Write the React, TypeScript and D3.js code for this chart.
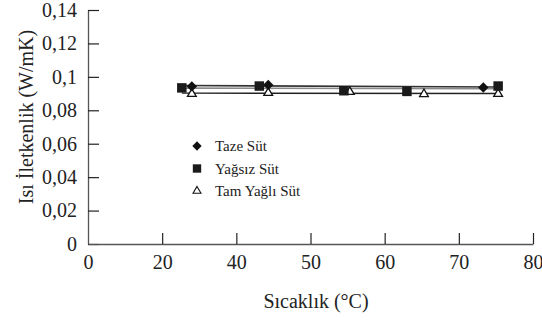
import React, { useRef, useEffect } from 'react';
import * as d3 from 'd3';

// tick labels (the x axis is drawn with evenly spaced, uneven labels)
const xTicks = [0, 20, 40, 50, 60, 70, 80];
const yTicks = [0, 0.02, 0.04, 0.06, 0.08, 0.1, 0.12, 0.14];
const yTickLabels = ['0', '0,02', '0,04', '0,06', '0,08', '0,1', '0,12', '0,14'];

// series
const tazeX = [28, 44.3, 73.3];
const tazeY = [0.0943, 0.0952, 0.0937];
const yagsizX = [25.3, 43.1, 54.5, 63, 75.3];
const yagsizY = [0.0934, 0.0945, 0.0917, 0.0913, 0.0945];
const tamX = [28, 44.3, 55.3, 65.3, 75.3];
const tamY = [0.0898, 0.0904, 0.091, 0.0897, 0.0898];

const seriesNames = ['Taze Süt', 'Yağsız Süt', 'Tam Yağlı Süt'];

const W = 542;
const H = 321;
const FONT = '"Liberation Serif", "Times New Roman", serif';

const fit = (xs, ys) => {
  const mx = d3.mean(xs), my = d3.mean(ys);
  const sxy = d3.sum(xs, (x, i) => (x - mx) * (ys[i] - my));
  const sxx = d3.sum(xs, (x) => (x - mx) * (x - mx));
  const b = sxy / sxx;
  return (x) => my + b * (x - mx);
};

const App = () => {
  const svgRef = useRef(null);

  useEffect(() => {
    const svg = d3.select(svgRef.current);
    svg.selectAll('*').remove();

    const left = 88, right = 533, top = 10, bottom = 244;

    const xScale = d3.scaleLinear()
      .domain(xTicks)
      .range(xTicks.map((_, i) => left + (i * (right - left)) / (xTicks.length - 1)));
    const yScale = d3.scaleLinear().domain([0, 0.14]).range([bottom, top]);

    const axisColor = '#555';

    // y axis
    const gy = svg.append('g')
      .attr('transform', `translate(${left},0)`)
      .call(d3.axisLeft(yScale)
        .tickValues(yTicks)
        .tickSizeInner(-11)
        .tickSizeOuter(0)
        .tickPadding(11)
        .tickFormat((d, i) => yTickLabels[i]));
    gy.select('.domain').attr('stroke', axisColor).attr('stroke-width', 1.3);
    gy.selectAll('.tick line').attr('stroke', '#222').attr('stroke-width', 1.2);
    gy.selectAll('.tick text').attr('fill', '#222').style('font-family', FONT).style('font-size', '20px');

    // x axis
    const gx = svg.append('g')
      .attr('transform', `translate(0,${bottom})`)
      .call(d3.axisBottom(xScale)
        .tickValues(xTicks)
        .tickSizeInner(-11)
        .tickSizeOuter(0)
        .tickPadding(11)
        .tickFormat((d) => String(d)));
    gx.select('.domain').attr('stroke', axisColor).attr('stroke-width', 1.3);
    gx.selectAll('.tick line').attr('stroke', '#222').attr('stroke-width', 1.2);
    gx.selectAll('.tick').filter((d) => d === 0).select('line').remove();
    gx.selectAll('.tick text').attr('fill', '#222').style('font-family', FONT).style('font-size', '20px');

    // trend lines
    const allX = [...tazeX, ...yagsizX, ...tamX];
    const x0 = d3.min(allX), x1 = d3.max(allX);
    const trends = [
      { f: fit(tazeX, tazeY), color: '#333', w: 1.6 },
      { f: fit(yagsizX, yagsizY), color: '#8a8a8a', w: 1.6 },
      { f: fit(tamX, tamY), color: '#222', w: 1.4 },
    ];
    const line = d3.line().x((d) => xScale(d[0])).y((d) => yScale(d[1]));
    trends.forEach((t) => {
      svg.append('path')
        .datum([[x0, t.f(x0)], [x1, t.f(x1)]])
        .attr('fill', 'none')
        .attr('stroke', t.color)
        .attr('stroke-width', t.w)
        .attr('d', line);
    });

    const diamond = d3.symbol().type(d3.symbolDiamond2).size(70);
    const square = d3.symbol().type(d3.symbolSquare).size(90);
    const triangle = d3.symbol().type(d3.symbolTriangle2).size(55);

    const drawSet = (xs, ys, sym, fill, stroke) => {
      svg.append('g').selectAll('path')
        .data(xs.map((x, i) => [x, ys[i]]))
        .enter()
        .append('path')
        .attr('transform', (d) => `translate(${xScale(d[0])},${yScale(d[1])})`)
        .attr('d', sym)
        .attr('fill', fill)
        .attr('stroke', stroke)
        .attr('stroke-width', 1.3);
    };

    drawSet(tamX, tamY, triangle, '#fff', '#111');
    drawSet(yagsizX, yagsizY, square, '#1a1a1a', 'none');
    drawSet(tazeX, tazeY, diamond, '#111', 'none');

    // legend
    const legend = svg.append('g').attr('transform', 'translate(197,146)');
    const legendSyms = [
      { sym: d3.symbol().type(d3.symbolDiamond2).size(55), fill: '#111', stroke: 'none' },
      { sym: d3.symbol().type(d3.symbolSquare).size(70), fill: '#1a1a1a', stroke: 'none' },
      { sym: d3.symbol().type(d3.symbolTriangle2).size(45), fill: '#fff', stroke: '#111' },
    ];
    seriesNames.forEach((name, i) => {
      const row = legend.append('g').attr('transform', `translate(0,${i * 22.5})`);
      row.append('path')
        .attr('d', legendSyms[i].sym)
        .attr('fill', legendSyms[i].fill)
        .attr('stroke', legendSyms[i].stroke)
        .attr('stroke-width', 1.1);
      row.append('text')
        .attr('x', 18)
        .attr('y', 5)
        .attr('fill', '#222')
        .style('font-family', FONT)
        .style('font-size', '15px')
        .text(name);
    });

    // axis titles
    svg.append('text')
      .attr('x', 316)
      .attr('y', 308)
      .attr('text-anchor', 'middle')
      .attr('fill', '#222')
      .style('font-family', FONT)
      .style('font-size', '20px')
      .text('Sıcaklık (°C)');

    svg.append('text')
      .attr('transform', 'rotate(-90)')
      .attr('x', -117)
      .attr('y', 33)
      .attr('text-anchor', 'middle')
      .attr('fill', '#222')
      .style('font-family', FONT)
      .style('font-size', '20px')
      .text('Isı İletkenlik (W/mK)');
  }, []);

  return (
    <svg
      ref={svgRef}
      width={W}
      height={H}
      style={{ position: 'absolute', left: 0, top: 0, background: '#fff' }}
    />
  );
};

export default App;
